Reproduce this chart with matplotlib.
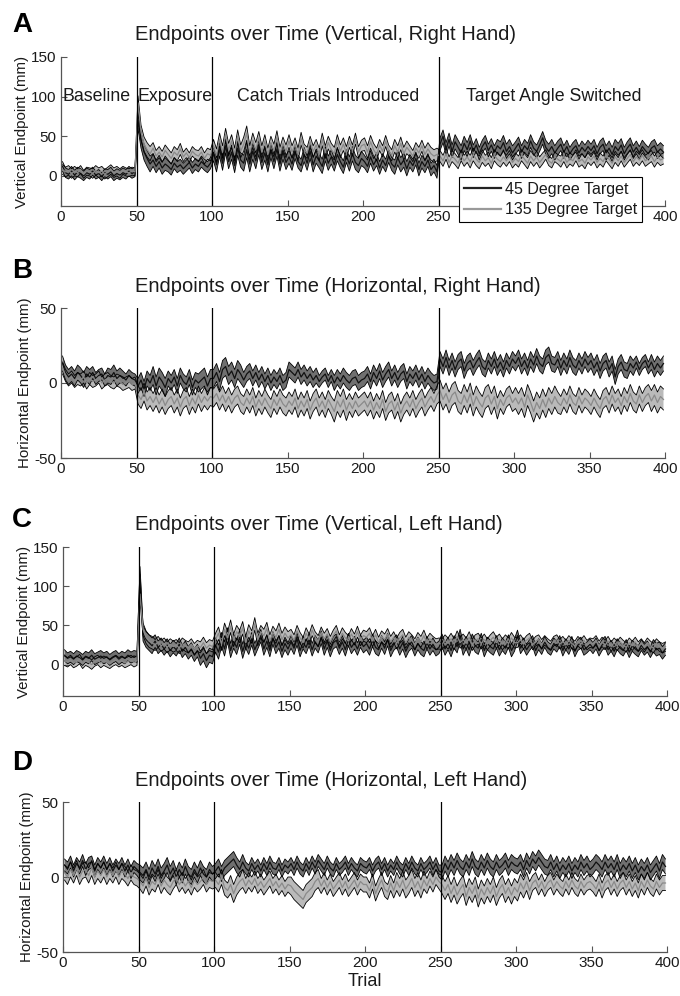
import numpy as np
import matplotlib.pyplot as plt
from matplotlib.lines import Line2D

plt.rcParams['font.family'] = ['Liberation Sans', 'DejaVu Sans']
plt.rcParams['axes.unicode_minus'] = False

# every second trial
trials = np.arange(1, 400, 2)
phase_edges = [50, 100, 250]
phase_names = ['Baseline', 'Exposure', 'Catch Trials Introduced', 'Target Angle Switched']
legend_labels = ['45 Degree Target', '135 Degree Target']

# A: vertical, right hand
a45_mean = [12, 4, 2, 6, 1, 5, 3, 0, 4, 2, 6, 1, 3, -1, 4, 2, 5, 0, 3, 1, 4, 2, 6, 3, 5,
            70, 45, 30, 22, 15, 20, 12, 18, 10, 15, 12, 8, 16, 11, 14, 9, 13, 17, 10, 15, 12, 18, 14, 11, 16,
            28, 14, 34, 16, 38, 18, 30, 13, 35, 20, 16, 33, 15, 31, 19, 36, 17, 29, 14, 32, 18, 34, 15, 30, 17,
            24, 15, 30, 18, 13, 27, 16, 31, 14, 25, 19, 12, 28, 16, 24, 14, 27, 18, 11, 25, 15, 28, 17, 13, 22,
            18, 12, 24, 14, 21, 10, 20, 13, 25, 15, 11, 23, 14, 20, 9, 19, 13, 22, 8, 18, 12, 20, 8, 13, 5,
            40, 50, 34, 46, 31, 43, 36, 29, 41, 33, 44, 31, 39, 28, 37, 43, 32, 39, 30, 38, 34, 42, 31, 37, 29,
            35, 41, 30, 38, 33, 44, 35, 31, 39, 48, 36, 31, 37, 29, 35, 40, 30, 37, 28, 34, 38, 29, 36, 31, 37,
            32, 38, 28, 36, 40, 29, 35, 27, 37, 32, 39, 28, 35, 40, 30, 36, 29, 37, 32, 28, 35, 38, 30, 34, 30]
a45_half = [6, 6, 5, 6, 6, 10, 8, 7, 7, 7, 9, 9, 10, 9, 9, 8, 9, 9, 8, 9,
            8, 8, 9, 8, 8, 8, 9, 8, 8, 9, 8, 8, 9, 8, 8, 8, 9, 8, 8, 8]
a135_mean = [8, 5, 7, 3, 6, 4, 8, 2, 6, 5, 3, 7, 4, 6, 2, 5, 8, 4, 6, 3, 7, 5, 4, 6, 5,
             92, 55, 40, 33, 28, 35, 25, 30, 24, 32, 27, 22, 30, 26, 34, 24, 29, 23, 31, 27, 25, 30, 22, 28, 26,
             38, 26, 46, 30, 52, 33, 44, 27, 50, 31, 40, 54, 29, 45, 33, 48, 30, 44, 27, 42, 32, 49, 28, 41, 31,
             44, 30, 40, 27, 47, 33, 29, 43, 31, 39, 27, 46, 30, 42, 33, 28, 44, 31, 40, 29, 43, 32, 47, 30, 38,
             40, 30, 43, 33, 27, 39, 31, 44, 32, 26, 38, 30, 41, 28, 36, 31, 25, 35, 29, 38, 27, 34, 28, 25, 27,
             25, 19, 28, 17, 25, 21, 16, 26, 19, 24, 18, 27, 21, 17, 25, 19, 23, 16, 26, 21, 18, 24, 19, 25, 17,
             22, 18, 26, 21, 16, 25, 19, 24, 17, 22, 27, 19, 16, 24, 21, 18, 25, 17, 22, 19, 26, 18, 21, 16, 24,
             20, 25, 17, 22, 18, 26, 21, 16, 24, 19, 25, 17, 22, 27, 18, 24, 20, 26, 19, 22, 25, 18, 24, 20, 22]
a135_half = [6, 5, 6, 6, 5, 9, 7, 7, 6, 7, 8, 8, 9, 8, 8, 8, 7, 8, 8, 7,
             8, 7, 8, 7, 8, 7, 7, 8, 7, 7, 7, 7, 6, 7, 7, 7, 7, 6, 7, 7]

# B: horizontal, right hand
b45_mean = [13, 7, 4, 6, 3, 7, 5, 2, 6, 4, 7, 3, 5, 6, 2, 5, 4, 7, 3, 5, 4, 2, 5, 3, 2,
            -2, 2, -4, 3, 0, 5, -2, 4, 1, -3, 3, 0, 4, -2, 5, 1, -1, 4, -3, 2, 0, 2, 4, -2, 3,
            3, 7, 1, 9, 11, 5, 8, 3, 9, 6, 2, 6, 8, 3, 7, 2, 6, 1, 5, 0, 4, 1, 5, 0, 2,
            9, 7, 5, 9, 4, 7, 3, 6, 2, 5, 1, 4, 6, 1, 5, 0, 4, 1, 5, 2, 0, 3, 4, 0, 2,
            3, 6, 1, 7, 3, 8, 2, 6, 9, 3, 7, 2, 6, 8, 1, 6, 3, 7, 2, 6, 1, 5, 2, 0, 1,
            16, 11, 17, 10, 15, 9, 14, 16, 8, 13, 15, 10, 14, 17, 11, 9, 15, 11, 16, 10, 14, 9, 15, 11, 16,
            13, 17, 11, 15, 10, 16, 12, 18, 13, 11, 17, 19, 13, 12, 16, 10, 15, 11, 17, 12, 10, 15, 11, 16, 12,
            15, 10, 14, 8, 13, 15, 9, 13, 4, 11, 14, 9, 8, 13, 10, 14, 9, 13, 15, 10, 14, 9, 13, 10, 13]
b45_half = [5, 5, 4, 5, 4, 5, 6, 5, 5, 6, 6, 6, 5, 5, 5, 5, 5, 4, 5, 5,
            5, 5, 5, 5, 5, 5, 5, 5, 5, 5, 5, 5, 5, 5, 5, 5, 5, 5, 4, 5]
b135_mean = [10, 5, 2, 4, 1, 3, 2, 4, 0, 3, 1, 2, 4, 0, 2, 3, 1, 0, 2, 1, -1, 0, 1, -1, 0,
             -8, -11, -6, -12, -9, -13, -9, -14, -10, -15, -11, -9, -14, -10, -16, -11, -9, -15, -10, -14, -8, -13, -9, -12, -9,
             -10, -7, -12, -8, -13, -9, -14, -10, -8, -13, -15, -10, -14, -9, -16, -11, -15, -10, -14, -17, -11, -15, -10, -14, -16,
             -12, -15, -10, -17, -12, -16, -11, -18, -13, -10, -16, -12, -17, -11, -15, -19, -12, -16, -11, -18, -13, -17, -12, -16, -14,
             -12, -16, -12, -18, -13, -17, -11, -19, -14, -12, -18, -13, -20, -15, -12, -16, -11, -17, -13, -10, -16, -12, -9, -13, -8,
             -5, -11, -7, -13, -8, -6, -12, -14, -8, -13, -7, -15, -9, -13, -16, -10, -8, -14, -9, -17, -11, -15, -10, -8, -13,
             -10, -14, -10, -16, -8, -13, -19, -13, -17, -11, -16, -10, -14, -9, -13, -15, -10, -14, -8, -13, -15, -9, -14, -10, -12,
             -15, -10, -14, -17, -11, -9, -14, -8, -13, -10, -15, -9, -13, -7, -12, -14, -8, -13, -9, -7, -12, -8, -13, -9, -11]
b135_half = [4, 4, 4, 4, 4, 6, 6, 6, 6, 6, 6, 6, 6, 6, 6, 6, 6, 6, 7, 6,
             6, 6, 6, 6, 6, 7, 7, 7, 7, 6, 7, 7, 7, 6, 6, 6, 6, 6, 6, 7]

# C: vertical, left hand
c45_mean = [12, 8, 10, 7, 11, 9, 6, 10, 8, 12, 7, 9, 11, 8, 10, 6, 9, 11, 7, 10, 8, 12, 9, 11, 10,
            115, 40, 32, 28, 24, 30, 22, 26, 20, 25, 18, 23, 19, 26, 17, 22, 15, 20, 12, 18, 8, 14, 5, 12, 10,
            25, 16, 32, 20, 38, 18, 30, 22, 35, 17, 29, 21, 33, 19, 28, 37, 20, 30, 18, 34, 22, 29, 17, 27, 20,
            29, 21, 33, 18, 28, 22, 32, 19, 29, 23, 35, 20, 30, 18, 28, 31, 21, 29, 19, 32, 22, 28, 20, 30, 23,
            27, 20, 31, 22, 19, 29, 21, 32, 18, 26, 30, 20, 28, 17, 25, 29, 19, 27, 21, 18, 28, 20, 26, 19, 22,
            31, 20, 27, 18, 29, 23, 37, 20, 28, 19, 31, 24, 21, 32, 18, 27, 23, 20, 29, 19, 26, 21, 30, 18, 25,
            37, 21, 27, 19, 25, 30, 18, 26, 20, 29, 22, 19, 27, 23, 30, 18, 26, 20, 29, 17, 25, 28, 19, 22, 26,
            21, 27, 18, 25, 29, 19, 24, 17, 26, 21, 18, 25, 16, 24, 20, 17, 25, 19, 23, 16, 24, 19, 21, 15, 20]
c45_half = [7, 7, 7, 7, 7, 10, 8, 8, 8, 9, 9, 9, 8, 8, 8, 8, 8, 8, 8, 8,
            8, 8, 8, 8, 8, 8, 8, 8, 8, 8, 7, 7, 7, 7, 7, 7, 7, 7, 7, 8]
c135_mean = [5, 3, 6, 2, 4, 7, 1, 5, 3, 0, 4, 6, 2, 5, 3, 1, 4, 6, 3, 5, 2, 4, 6, 3, 5,
             90, 45, 35, 30, 28, 25, 29, 24, 27, 22, 26, 23, 25, 21, 27, 24, 22, 26, 20, 24, 22, 28, 21, 25, 23,
             32, 40, 26, 45, 34, 49, 31, 42, 36, 47, 28, 43, 35, 52, 32, 42, 37, 46, 30, 41, 35, 45, 32, 40, 34,
             38, 31, 43, 34, 28, 40, 32, 44, 35, 30, 41, 33, 39, 29, 37, 43, 31, 40, 34, 30, 39, 32, 42, 31, 37,
             35, 40, 30, 38, 28, 36, 32, 39, 29, 35, 27, 34, 38, 28, 35, 31, 26, 34, 29, 37, 27, 33, 29, 26, 27,
             26, 31, 27, 33, 26, 36, 28, 32, 27, 35, 25, 31, 33, 27, 32, 26, 31, 35, 28, 32, 26, 31, 27, 34, 28,
             28, 32, 26, 31, 34, 25, 30, 32, 26, 31, 27, 24, 30, 32, 26, 30, 25, 31, 27, 24, 30, 26, 31, 25, 28,
             27, 31, 24, 29, 25, 30, 23, 28, 24, 29, 25, 22, 28, 24, 29, 23, 27, 22, 28, 24, 21, 27, 23, 21, 23]
c135_half = [6, 6, 6, 6, 6, 8, 7, 7, 7, 7, 8, 8, 8, 8, 8, 7, 7, 7, 7, 7,
             7, 7, 7, 7, 7, 7, 7, 7, 7, 7, 6, 6, 6, 6, 6, 6, 6, 6, 6, 6]

# D: horizontal, left hand
d45_mean = [8, 6, 10, 4, 9, 6, 11, 5, 9, 10, 4, 9, 6, 10, 5, 9, 4, 8, 5, 9, 4, 8, 3, 7, 5,
            3, 1, 5, 0, 6, 2, 7, 1, 4, 8, 2, 6, 0, 5, 1, 7, 2, 0, 5, 1, 6, 2, 0, 5, 2,
            4, 7, 2, 6, 8, 10, 12, 8, 5, 10, 6, 4, 9, 5, 8, 4, 9, 5, 10, 6, 5, 9, 4, 8, 6,
            9, 5, 10, 6, 4, 9, 5, 10, 6, 11, 8, 5, 10, 6, 4, 9, 5, 7, 10, 5, 9, 6, 4, 9, 7,
            6, 9, 4, 8, 10, 5, 9, 4, 8, 5, 10, 6, 4, 9, 5, 10, 6, 4, 9, 5, 7, 10, 5, 9, 4,
            3, 9, 5, 10, 6, 11, 7, 5, 10, 6, 12, 7, 5, 10, 6, 11, 7, 5, 10, 6, 8, 11, 6, 10, 8,
            7, 10, 5, 11, 7, 12, 9, 13, 10, 7, 6, 10, 5, 9, 4, 8, 5, 9, 4, 8, 5, 10, 6, 9, 5,
            7, 10, 8, 5, 10, 6, 9, 5, 10, 4, 8, 5, 9, 4, 8, 3, 7, 4, 8, 3, 6, 9, 4, 10, 7]
d45_half = [4, 4, 4, 4, 4, 5, 5, 5, 5, 5, 5, 5, 4, 4, 4, 4, 4, 4, 4, 4,
            4, 4, 4, 4, 4, 5, 5, 5, 5, 5, 5, 5, 5, 5, 5, 5, 5, 5, 5, 5]
d135_mean = [3, 0, 5, 1, 6, 0, 4, 5, 1, 6, 0, 4, 1, 5, 0, 4, 1, 5, 0, 4, 2, -1, 3, 0, -1,
             -3, -6, -1, -7, -3, -5, 0, -6, -2, -5, -7, -3, 0, -5, -2, -6, -3, -7, -2, -5, -3, 0, -5, -2, -3,
             -2, -5, 0, -7, -9, -5, -11, -6, -3, -1, -6, -2, -5, -1, -6, -3, -7, -4, -1, -6, -3, -7, -4, -8, -5,
             -6, -9, -11, -13, -15, -11, -9, -7, -3, -1, -6, -2, -7, -3, -8, -5, -2, -7, -3, -8, -5, -2, -7, -3, -5,
             -5, -9, -3, -11, -6, -2, -8, -10, -4, -9, -3, -7, -2, -8, -5, -1, -7, -3, -8, -2, -6, -1, -5, 0, -3,
             -5, -9, -5, -11, -6, -12, -8, -5, -13, -7, -11, -6, -14, -8, -12, -7, -11, -6, -13, -8, -5, -11, -7, -12, -7,
             -10, -4, -8, -3, -9, -4, -2, -7, -3, -8, -4, -2, -7, -3, -6, -8, -3, -7, -2, -6, -8, -3, -7, -4, -3,
             -5, -8, -3, -9, -4, -2, -7, -3, -8, -4, -2, -7, -3, -8, -4, -9, -3, -7, -2, -6, -8, -3, -7, -4, -4]
d135_half = [5, 5, 5, 5, 5, 5, 5, 5, 5, 5, 5, 6, 5, 5, 5, 6, 6, 5, 5, 5,
             5, 5, 6, 6, 5, 6, 6, 6, 6, 6, 6, 5, 5, 5, 5, 5, 5, 5, 5, 5]

panels = [
    ('A', 'Endpoints over Time (Vertical, Right Hand)', 'Vertical Endpoint (mm)', (-38, 150), [0, 50, 100, 150],
     a45_mean, a45_half, a135_mean, a135_half),
    ('B', 'Endpoints over Time (Horizontal, Right Hand)', 'Horizontal Endpoint (mm)', (-50, 50), [-50, 0, 50],
     b45_mean, b45_half, b135_mean, b135_half),
    ('C', 'Endpoints over Time (Vertical, Left Hand)', 'Vertical Endpoint (mm)', (-40, 150), [0, 50, 100, 150],
     c45_mean, c45_half, c135_mean, c135_half),
    ('D', 'Endpoints over Time (Horizontal, Left Hand)', 'Horizontal Endpoint (mm)', (-50, 50), [-50, 0, 50],
     d45_mean, d45_half, d135_mean, d135_half),
]

# axes boxes in pixels: left, top, right, bottom
boxes = [(61, 57, 665, 206), (61, 308, 665, 458), (63, 547, 667, 696), (63, 802, 667, 952)]
letter_y = [25, 271, 520, 763]
xticks = [0, 50, 100, 150, 200, 250, 300, 350, 400]

W, H = 680, 996
fig = plt.figure(figsize=(W / 100, H / 100), dpi=100)
txt = '#1a1a1a'

for (letter, title, ylab, ylim, yticks, m45, h45, m135, h135), box, ly in zip(panels, boxes, letter_y):
    l, t, r, b = box
    ax = fig.add_axes([l / W, 1 - b / H, (r - l) / W, (b - t) / H])
    for mean, half, fill, alpha, mcol in [(m45, h45, '#404040', 0.75, '#111111'),
                                          (m135, h135, '#8c8c8c', 0.6, '#8a8a8a')]:
        m = np.array(mean, dtype=float)
        h = np.repeat(half, 5)
        ax.fill_between(trials, m - h, m + h, facecolor=fill, alpha=alpha, edgecolor='none')
        ax.plot(trials, m + h, color='k', lw=0.6)
        ax.plot(trials, m - h, color='k', lw=0.6)
        ax.plot(trials, m, color=mcol, lw=0.9)
    for xe in phase_edges:
        ax.axvline(xe, color='k', lw=0.9)
    ax.set_xlim(0, 400)
    ax.set_ylim(*ylim)
    ax.set_xticks(xticks)
    if letter == 'A':
        # the legend box hides these two labels in the original
        ax.set_xticklabels(['' if v in (300, 350) else str(v) for v in xticks])
    ax.set_yticks(yticks)
    for s in ['top', 'right']:
        ax.spines[s].set_visible(False)
    for s in ['left', 'bottom']:
        ax.spines[s].set_color('#555555')
        ax.spines[s].set_linewidth(0.9)
    ax.tick_params(direction='in', length=4, width=0.8, color='#555555', labelsize=11, labelcolor=txt, pad=3)
    ax.set_ylabel(ylab, fontsize=10.8, color=txt, labelpad=2)
    fig.text(135 / W, 1 - (t - 22) / H, title, fontsize=14.5, color=txt, ha='left', va='center')
    fig.text(12 / W, 1 - ly / H, letter, fontsize=20, fontweight='bold', color='k', ha='left', va='center')
    if letter == 'A':
        ax.text(1, 100, phase_names[0], fontsize=12.8, color=txt, va='center', ha='left')
        ax.text(50.5, 100, phase_names[1], fontsize=12.8, color=txt, va='center', ha='left')
        ax.text(177, 100, phase_names[2], fontsize=12.8, color=txt, va='center', ha='center')
        ax.text(326, 100, phase_names[3], fontsize=12.8, color=txt, va='center', ha='center')
    if letter == 'D':
        ax.set_xlabel('Trial', fontsize=13, color=txt, labelpad=2)

handles = [Line2D([], [], color='#222222', lw=1.6), Line2D([], [], color='#999999', lw=1.6)]
leg = fig.legend(handles, legend_labels, loc='upper left', bbox_to_anchor=(459 / W, 1 - 177 / H),
                 fontsize=11.5, frameon=True, fancybox=False, framealpha=1, handlelength=2.3,
                 handletextpad=0.3, labelspacing=0.35, borderpad=0.3, borderaxespad=0)
leg.get_frame().set_edgecolor('k')
leg.get_frame().set_facecolor('white')
leg.get_frame().set_linewidth(0.8)
for t_ in leg.get_texts():
    t_.set_color(txt)

fig.savefig('out.png', dpi=100)
